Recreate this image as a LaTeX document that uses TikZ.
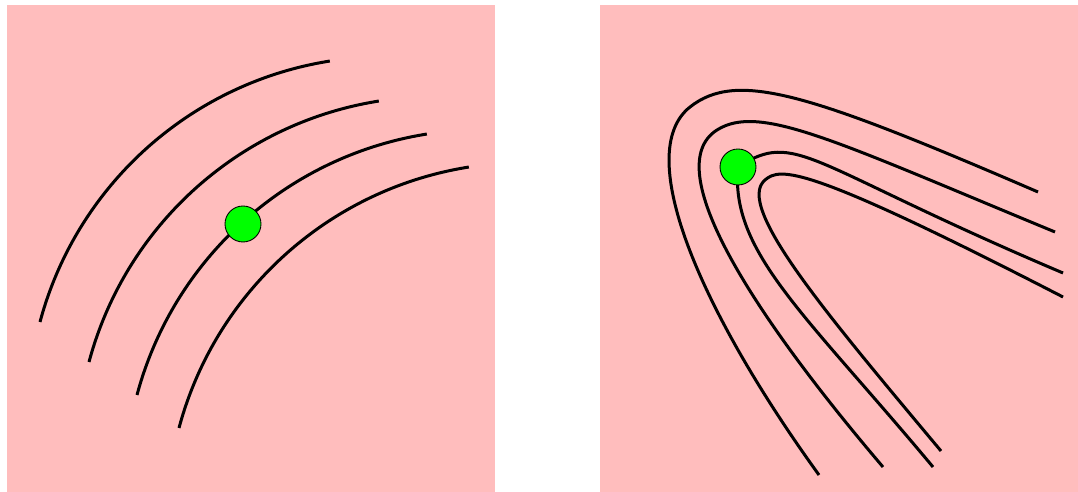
\documentclass[tikz,border=0pt]{standalone}
\usetikzlibrary{positioning}
\definecolor{panelpink}{RGB}{255,189,189}
\definecolor{dotgreen}{RGB}{0,255,0}

\begin{document}
\begin{tikzpicture}[
    x=0.02cm, y=0.02cm,
    panel/.style={fill=panelpink, draw=none},
    level line/.style={draw=black, line width=0.06cm},
    dot node/.style={circle, fill=dotgreen, draw=black, line width=0.5pt, minimum size=0.72cm, inner sep=0pt}
]
    \useasboundingbox (0,0) rectangle (1078,492);

    % Panels
    \fill[panel] (7,0) rectangle (495,487);
    \fill[panel] (600,0) rectangle (1078,487);

    % Left: shifted arcs
    \foreach \dx/\dy in {0/0, 49/-40, 97/-73, 139/-106}
        \draw[level line] (40+\dx,170+\dy) arc[start angle=165, end angle=99, radius=358];

    % Right: bent curves, outer to inner
    \draw[level line] (819,17) .. controls (702,179) and (631.5,338.5) .. (690,385)
        .. controls (737,422) and (808.5,399) .. (1038,300);
    \draw[level line] (883,25) .. controls (753.4,177.2) and (657.9,324.6) .. (717,362)
        .. controls (759.3,388.7) and (833.2,351.7) .. (1055,260);
    \draw[level line] (933,25) .. controls (805,178.6) and (730,240) .. (738,325)
        .. controls (796.8,362.8) and (805.4,328.2) .. (1063,219);
    \draw[level line] (941,41) .. controls (825.6,179.1) and (734.5,286.1) .. (765,312)
        .. controls (780.2,325) and (805,328) .. (1063,195);

    % Points
    \node[dot node] (pL) at (243,268) {};
    \node[dot node] (pR) at (738,325) {};
\end{tikzpicture}
\end{document}
